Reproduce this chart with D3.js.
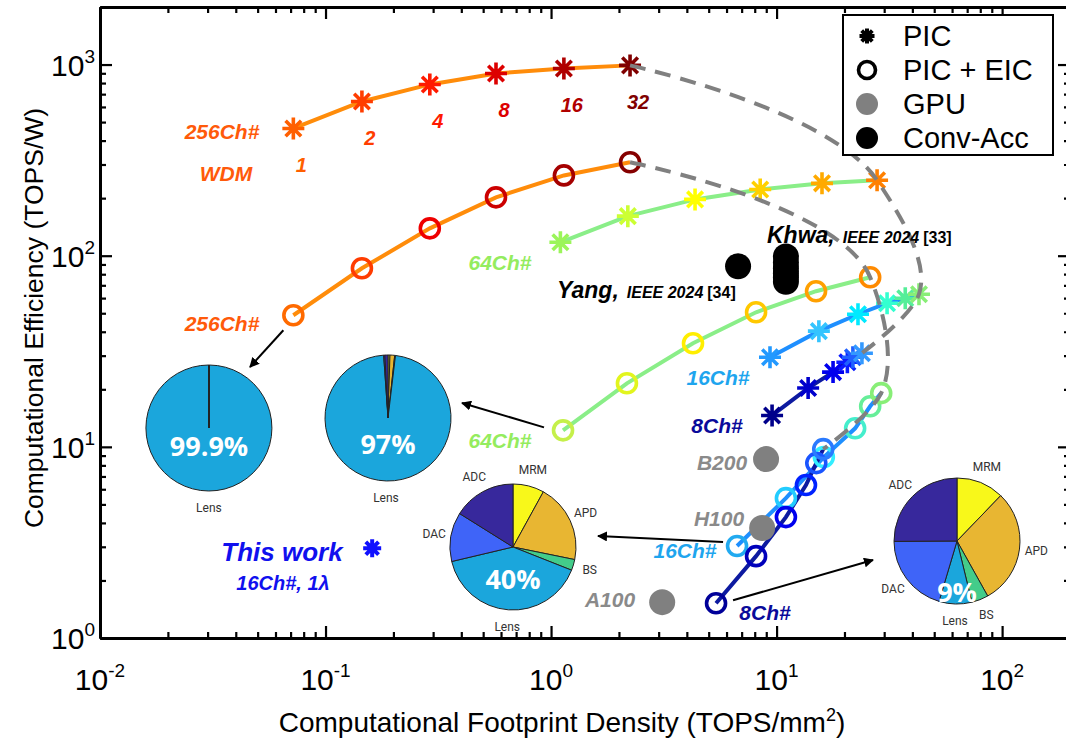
<!DOCTYPE html>
<meta charset="utf-8">
<title>Computational Efficiency vs Footprint Density</title>
<script src="https://d3js.org/d3.v7.min.js"></script>
<style>
  body { margin: 0; background: #fff; }
  svg text { font-family: "Liberation Sans", Arial, sans-serif; }
</style>
<body>
<script>

var w = 1066, h = 744;

// wavelengths per point (WDM)
var lambdas = ["1", "2", "4", "8", "16", "32"];

// 256Ch#
var ch256PicX = [0.072, 0.145, 0.29, 0.57, 1.14, 2.24];
var ch256PicY = [463, 641, 787, 898, 954, 990];
var ch256EicX = [0.072, 0.145, 0.29, 0.57, 1.14, 2.24];
var ch256EicY = [48.8, 85.9, 139, 202, 263, 308];
// 64Ch#
var ch64PicX = [1.10, 2.19, 4.35, 8.46, 15.9, 27.9];
var ch64PicY = [117.5, 161, 197, 222, 239, 248];
var ch64EicX = [1.13, 2.17, 4.26, 8.11, 14.96, 26.0];
var ch64EicY = [12.2, 21.5, 34.8, 50.6, 65.2, 77.1];
// 16Ch#
var ch16PicX = [9.35, 15.4, 22.96, 30.9, 37.2, 42.8];
var ch16PicY = [29.4, 40.3, 49.4, 56.4, 59.9, 62.9];
var ch16EicX = [6.68, 11.0, 16.2, 22.3, 26.0, 29.1];
var ch16EicY = [3.03, 5.39, 8.84, 12.5, 16.3, 19.1];
// 8Ch#
var ch8PicX = [9.55, 13.8, 17.8, 20.6, 21.8, 23.9];
var ch8PicY = [14.6, 20.3, 24.6, 27.7, 29.4, 30.9];
var ch8EicX = [5.39, 8.11, 11.0, 13.5, 15.0, 16.1];
var ch8EicY = [1.52, 2.68, 4.29, 6.31, 8.22, 9.73];

// GPUs
var gpuNames = ["A100", "H100", "B200"];
var gpuX = [3.11, 8.63, 8.98];
var gpuY = [1.54, 3.76, 8.63];

// conventional accelerators
var yangX = [6.75], yangY = [88];
var khwaX = [11.0, 11.0, 11.0, 11.0, 11.0, 11.0], khwaY = [73, 77, 81, 86, 92, 99];

// this work
var thisWorkX = [0.161], thisWorkY = [2.95];

// power breakdown pies (%)
var pieParts = ["MRM", "APD", "BS", "Lens", "DAC", "ADC"];
var pie256 = [0.02, 0.04, 0.01, 99.9, 0.01, 0.02];
var pie64 = [0.5, 1.2, 0.2, 97, 0.3, 0.8];
var pie16 = [8.0, 20.2, 2.8, 40.3, 12.6, 16.1];
var pie8 = [12.2, 29.7, 4.3, 8.4, 20.3, 25.1];
var pieText = ["99.9%", "97%", "40%", "9%"];

// colours
var c256 = ["#ff5f00", "#ff3d00", "#ff1a00", "#dd0000", "#b00000", "#800000"];
var c256e = ["#ff6a00", "#ff3c00", "#ee0000", "#cc0000", "#a50000", "#850000"];
var c64 = ["#9bf55a", "#ccff33", "#ffff00", "#ffd000", "#ffaa00", "#ff8000"];
var c64e = ["#c5f04a", "#e2f51e", "#ffee00", "#ffc800", "#ffa000", "#ff8a00"];
var c16 = ["#2299ff", "#33c4ff", "#00eaff", "#33ffd0", "#55ee99", "#88ee77"];
var c16e = ["#22aaf0", "#22ccff", "#33eeff", "#44eecc", "#66ee99", "#88ee77"];
var c8 = ["#00008b", "#0000cc", "#0000ee", "#0a1aff", "#2060ff", "#3399ff"];
var c8e = ["#000099", "#0000bb", "#0000ee", "#0022ff", "#1a55ff", "#2a7aff"];
var pieColors = ["#f8f81a", "#e8b632", "#43cc8a", "#1ba6dc", "#3f64f8", "#37289c"];

var svg = d3.select("body").append("svg")
  .attr("width", w)
  .attr("height", h);

var x = d3.scaleLog().domain([0.01, 200]).range([100, 1070]);
var y = d3.scaleLog().domain([1, 2000]).range([638, 7]);

// ---- axes (box, inward ticks) ----
var xMajor = [0.01, 0.1, 1, 10, 100];
var yMajor = [1, 10, 100, 1000];
var xMinor = [], yMinor = [];
[0.01, 0.1, 1, 10, 100].forEach(function(d) {
  for (var k = 2; k <= 9; k++) if (d * k <= 200) xMinor.push(d * k);
});
[1, 10, 100, 1000].forEach(function(d) {
  for (var k = 2; k <= 9; k++) if (d * k <= 2000) yMinor.push(d * k);
});

function drawAxis(axisFn, scale, vals, len, tr) {
  var g = svg.append("g").attr("transform", tr)
    .call(axisFn(scale).tickValues(vals).tickSize(-len).tickSizeOuter(0).tickFormat(""));
  g.select(".domain").attr("stroke-width", 3);
  g.selectAll(".tick line").attr("stroke-width", 2.2);
  return g;
}
drawAxis(d3.axisBottom, x, xMinor, 6, "translate(0,638)");
drawAxis(d3.axisBottom, x, xMajor, 12, "translate(0,638)");
drawAxis(d3.axisTop, x, xMinor, 6, "translate(0,7)");
drawAxis(d3.axisTop, x, xMajor, 12, "translate(0,7)");
drawAxis(d3.axisLeft, y, yMinor, 6, "translate(100,0)");
drawAxis(d3.axisLeft, y, yMajor, 12, "translate(100,0)");
drawAxis(d3.axisRight, y, yMinor, 6, "translate(1070,0)");
drawAxis(d3.axisRight, y, yMajor, 12, "translate(1070,0)");

function powLabel(t, exp) {
  t.append("tspan").text("10");
  t.append("tspan").attr("dy", -13).attr("font-size", 19).text(exp);
}
xMajor.forEach(function(v) {
  var t = svg.append("text").attr("x", x(v)).attr("y", 690)
    .attr("text-anchor", "middle").attr("font-size", 30);
  powLabel(t, String(Math.round(Math.log10(v))));
});
yMajor.forEach(function(v) {
  var t = svg.append("text").attr("x", 95).attr("y", y(v) + 11)
    .attr("text-anchor", "end").attr("font-size", 30);
  powLabel(t, String(Math.round(Math.log10(v))));
});

var xt = svg.append("text").attr("x", 562).attr("y", 732)
  .attr("text-anchor", "middle").attr("font-size", 28);
xt.append("tspan").text("Computational Footprint Density (TOPS/mm");
xt.append("tspan").attr("dy", -11).attr("font-size", 18).text("2");
xt.append("tspan").attr("dy", 11).text(")");

svg.append("text")
  .attr("transform", "translate(43,318) rotate(-90)")
  .attr("text-anchor", "middle").attr("font-size", 26.5)
  .text("Computational Efficiency (TOPS/W)");

// ---- markers ----
function asterisk(r) {
  var d = r * 0.7071;
  return "M" + (-r) + ",0L" + r + ",0M0," + (-r) + "L0," + r +
    "M" + (-d) + "," + (-d) + "L" + d + "," + d +
    "M" + (-d) + "," + d + "L" + d + "," + (-d);
}

var series = [
  { xs: ch256PicX, ys: ch256PicY, pic: true, line: "#ff8c0a", cols: c256 },
  { xs: ch256EicX, ys: ch256EicY, pic: false, line: "#ff8c0a", cols: c256e },
  { xs: ch64PicX, ys: ch64PicY, pic: true, line: "#8aee88", cols: c64 },
  { xs: ch64EicX, ys: ch64EicY, pic: false, line: "#8aee88", cols: c64e },
  { xs: ch16PicX, ys: ch16PicY, pic: true, line: "#1e8fff", cols: c16 },
  { xs: ch16EicX, ys: ch16EicY, pic: false, line: "#1e8fff", cols: c16e },
  { xs: ch8PicX, ys: ch8PicY, pic: true, line: "#0d1aa0", cols: c8 },
  { xs: ch8EicX, ys: ch8EicY, pic: false, line: "#0d1aa0", cols: c8e }
];

var line = d3.line().x(function(d) { return x(d[0]); }).y(function(d) { return y(d[1]); });

series.forEach(function(s) {
  var pts = s.xs.map(function(v, i) { return [v, s.ys[i]]; });
  svg.append("path").datum(pts).attr("d", line)
    .attr("fill", "none").attr("stroke", s.line).attr("stroke-width", 4);
});

series.forEach(function(s) {
  var pts = s.xs.map(function(v, i) { return [v, s.ys[i], s.cols[i]]; });
  var g = svg.append("g");
  if (s.pic) {
    g.selectAll("path").data(pts).enter().append("path")
      .attr("transform", function(d) { return "translate(" + x(d[0]) + "," + y(d[1]) + ")"; })
      .attr("d", asterisk(11))
      .attr("stroke", function(d) { return d[2]; })
      .attr("stroke-width", 3.6).attr("fill", "none");
  } else {
    g.selectAll("circle").data(pts).enter().append("circle")
      .attr("cx", function(d) { return x(d[0]); })
      .attr("cy", function(d) { return y(d[1]); })
      .attr("r", 9.5).attr("fill", "none")
      .attr("stroke", function(d) { return d[2]; })
      .attr("stroke-width", 3.6);
  }
});

// wavelength labels under the 256Ch# PIC points
svg.append("g").selectAll("text").data(lambdas).enter().append("text")
  .attr("x", function(d, i) { return x(ch256PicX[i]) + 8; })
  .attr("y", function(d, i) { return y(ch256PicY[i]) + 44; })
  .attr("text-anchor", "middle").attr("font-size", 20)
  .attr("font-weight", "bold").attr("font-style", "italic")
  .attr("fill", function(d, i) { return c256[i]; })
  .text(function(d) { return d; });

// GPUs
svg.append("g").selectAll("circle").data(gpuX).enter().append("circle")
  .attr("cx", function(d) { return x(d); })
  .attr("cy", function(d, i) { return y(gpuY[i]); })
  .attr("r", 13).attr("fill", "#808080");

// conventional accelerators
svg.append("g").selectAll("circle").data(yangX.concat(khwaX)).enter().append("circle")
  .attr("cx", function(d) { return x(d); })
  .attr("cy", function(d, i) { return y(yangY.concat(khwaY)[i]); })
  .attr("r", 13).attr("fill", "#000");

// this work
svg.append("path")
  .attr("transform", "translate(" + x(thisWorkX[0]) + "," + y(thisWorkY[0]) + ")")
  .attr("d", asterisk(9)).attr("stroke", "#1010ff").attr("stroke-width", 4).attr("fill", "none");

// dashed frontiers through the 32-wavelength points
var curve = d3.line().curve(d3.curveCatmullRom.alpha(1))
  .x(function(d) { return x(d[0]); }).y(function(d) { return y(d[1]); });
var fronts = [
  [[ch256PicX[5], ch256PicY[5]], [ch64PicX[5], ch64PicY[5]], [ch16PicX[5], ch16PicY[5]], [ch8PicX[5], ch8PicY[5]]],
  [[ch256EicX[5], ch256EicY[5]], [ch64EicX[5], ch64EicY[5]], [ch16EicX[5], ch16EicY[5]], [ch8EicX[5], ch8EicY[5]]]
];
fronts.forEach(function(f) {
  svg.append("path").datum(f).attr("d", curve)
    .attr("fill", "none").attr("stroke", "#808080")
    .attr("stroke-width", 4).attr("stroke-dasharray", "16,10");
});

// ---- text annotations ----
function label(txt, px, py, size, col) {
  return svg.append("text").attr("x", px).attr("y", py)
    .attr("text-anchor", "middle").attr("font-size", size)
    .attr("font-weight", "bold").attr("font-style", "italic")
    .attr("fill", col).text(txt);
}
label("256Ch#", 222, 139, 21, "#ff5a0a");
label("WDM", 226, 181, 21, "#ff5a0a");
label("256Ch#", 222, 331, 21, "#ff5a0a");
label("64Ch#", 500, 270, 21, "#94ec5e");
label("64Ch#", 500, 448, 21, "#94ec5e");
label("16Ch#", 718, 385, 21, "#1ea5ee");
label("8Ch#", 717, 433, 21, "#0a0a9a");
label("B200", 722, 470, 21, "#8a8a8a");
label("H100", 719, 526, 21, "#8a8a8a");
label("16Ch#", 685, 558, 21, "#1ea5ee");
label("A100", 610, 607, 21, "#8a8a8a");
label("8Ch#", 765, 620, 21, "#0a0a9a");
label("This work", 282, 561, 26, "#1010ee");
label("16Ch#, 1\u03bb", 283, 590, 20, "#1010ee");

function citation(px, py, name, ref) {
  var t = svg.append("text").attr("x", px).attr("y", py)
    .attr("font-weight", "bold").attr("fill", "#000");
  t.append("tspan").attr("font-size", 23).attr("font-style", "italic").text(name);
  t.append("tspan").attr("font-size", 16).attr("font-style", "italic").attr("dx", 8).text("IEEE 2024");
  t.append("tspan").attr("font-size", 16).attr("dx", 4).text(ref);
}
citation(767, 243, "Khwa,", "[33]");
citation(557, 298, "Yang,", "[34]");

// ---- pie insets ----
var pies = [
  { vals: pie256, cx: 209, cy: 428, txtDy: 28, minLab: 50, start: [ch256EicX[0], ch256EicY[0]], so: [-10, 15], tip: [41, -61] },
  { vals: pie64, cx: 388, cy: 418, txtDy: 36, minLab: 50, start: [ch64EicX[0], ch64EicY[0]], so: [-19, -3], tip: [74, -15] },
  { vals: pie16, cx: 513, cy: 547, txtDy: 42, minLab: 1, start: [ch16EicX[0], ch16EicY[0]], so: [-14, -4], tip: [85, -11] },
  { vals: pie8, cx: 957, cy: 541, txtDy: 61, minLab: 1, start: [ch8EicX[0], ch8EicY[0]], so: [17, -3], tip: [-84, 19] }
];
var R = 63;
var pie = d3.pie().sort(null).value(function(d) { return d; });
var arc = d3.arc().innerRadius(0).outerRadius(R);
var labArc = d3.arc().innerRadius(R + 17).outerRadius(R + 17);

svg.append("defs").append("marker")
  .attr("id", "head").attr("viewBox", "0 0 10 10")
  .attr("refX", 9).attr("refY", 5)
  .attr("markerWidth", 5).attr("markerHeight", 5)
  .attr("orient", "auto")
  .append("path").attr("d", "M0,0L10,5L0,10z").attr("fill", "#000");

pies.forEach(function(p, k) {
  var g = svg.append("g").attr("transform", "translate(" + p.cx + "," + p.cy + ")");
  var arcs = pie(p.vals);
  g.selectAll("path").data(arcs).enter().append("path")
    .attr("d", arc)
    .attr("fill", function(d, i) { return pieColors[i]; })
    .attr("stroke", "#222").attr("stroke-width", 1);
  g.selectAll("text.lab").data(arcs.filter(function(d) { return d.data >= p.minLab; }))
    .enter().append("text")
    .attr("transform", function(d) { return "translate(" + labArc.centroid(d) + ")"; })
    .attr("text-anchor", "middle").attr("dy", 4)
    .attr("font-size", 12).attr("fill", "#333")
    .style("font-family", "Roboto, 'Liberation Sans', sans-serif")
    .text(function(d) { return pieParts[p.vals.indexOf(d.data)]; });
  g.append("text").attr("x", 0).attr("y", p.txtDy)
    .attr("text-anchor", "middle").attr("font-size", 27).attr("font-weight", "bold")
    .attr("fill", "#fff").style("font-family", "'Open Sans', Lato, sans-serif")
    .text(pieText[k]);

  // arrow from the first PIC + EIC point to the inset
  svg.append("line")
    .attr("x1", x(p.start[0]) + p.so[0]).attr("y1", y(p.start[1]) + p.so[1])
    .attr("x2", p.cx + p.tip[0]).attr("y2", p.cy + p.tip[1])
    .attr("stroke", "#000").attr("stroke-width", 2)
    .attr("marker-end", "url(#head)");
});

// ---- legend ----
var legNames = ["PIC", "PIC + EIC", "GPU", "Conv-Acc"];
var lg = svg.append("g");
lg.append("rect").attr("x", 843).attr("y", 15).attr("width", 210).attr("height", 140)
  .attr("fill", "#fff").attr("stroke", "#000").attr("stroke-width", 2);
var rows = lg.selectAll("g").data(legNames).enter().append("g")
  .attr("transform", function(d, i) { return "translate(867," + (36 + i * 34) + ")"; });
rows.append("text").attr("x", 36).attr("y", 10).attr("font-size", 29).text(function(d) { return d; });
rows.filter(function(d, i) { return i === 0; }).append("path")
  .attr("d", asterisk(7.5)).attr("stroke", "#000").attr("stroke-width", 4);
rows.filter(function(d, i) { return i === 1; }).append("circle")
  .attr("r", 8.5).attr("fill", "none").attr("stroke", "#000").attr("stroke-width", 3.6);
rows.filter(function(d, i) { return i === 2; }).append("circle")
  .attr("r", 11).attr("fill", "#808080");
rows.filter(function(d, i) { return i === 3; }).append("circle")
  .attr("r", 11).attr("fill", "#000");

</script>
</body>
